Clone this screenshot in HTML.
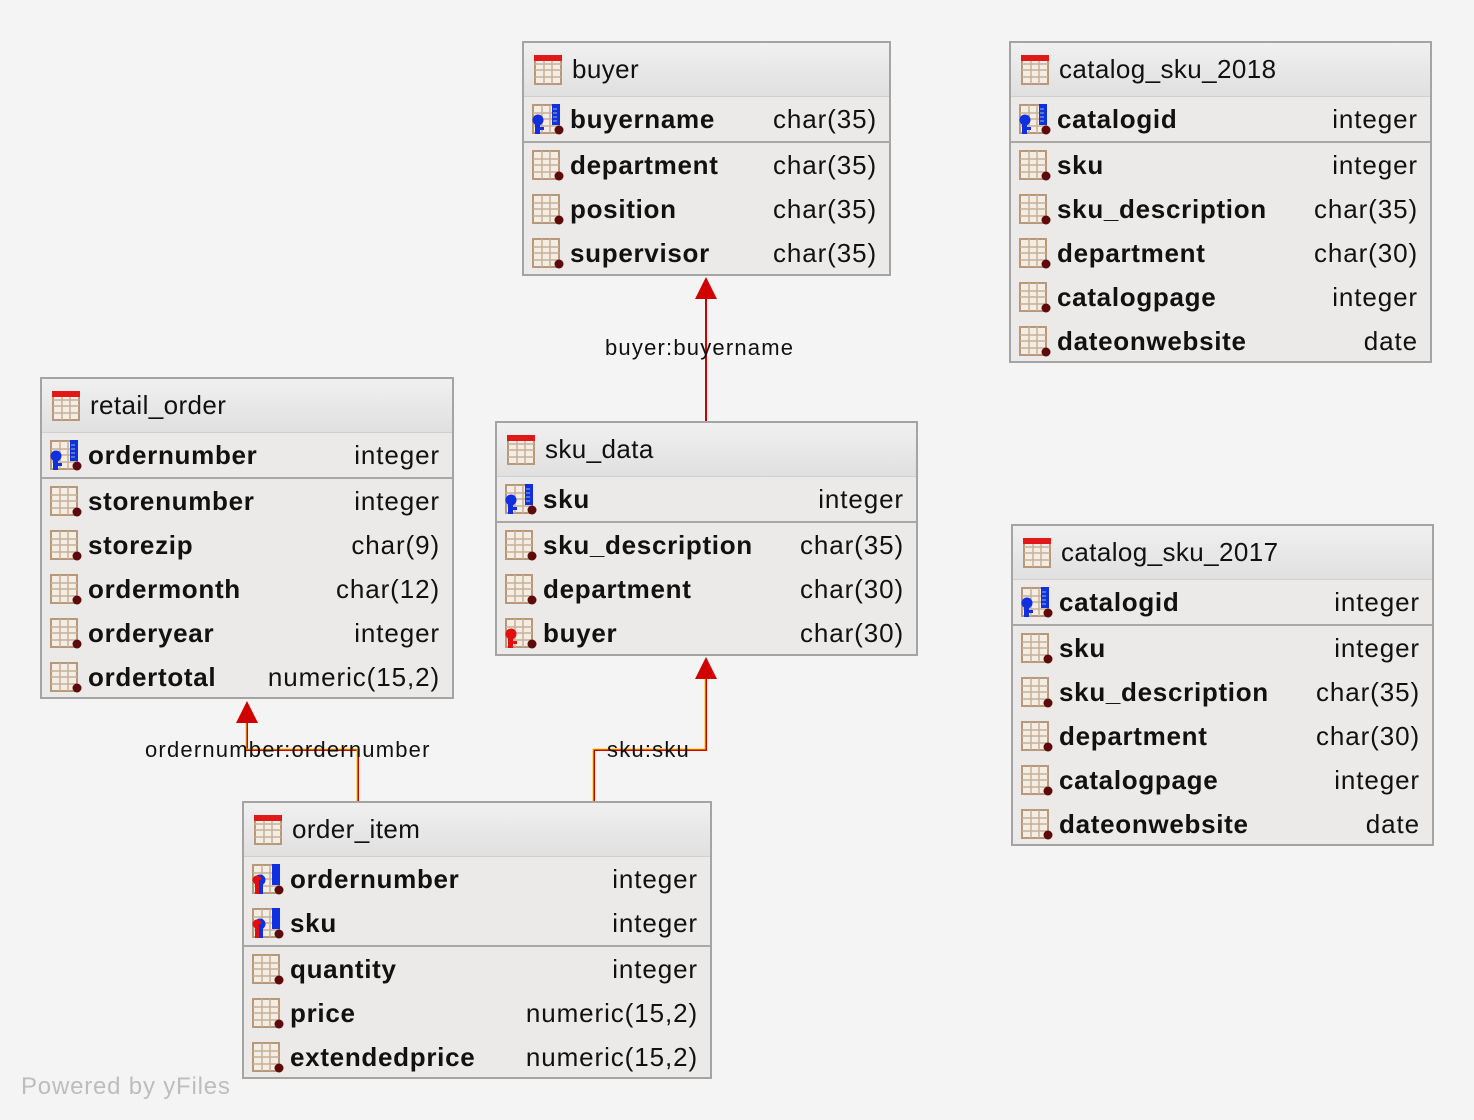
<!DOCTYPE html>
<html><head><meta charset="utf-8"><style>
body{margin:0;width:1474px;height:1120px;background:#f4f4f4;position:relative;overflow:hidden;font-family:"Liberation Sans",sans-serif;}
.t{position:absolute;border:2px solid #a4a4a4;background:#ebeae9;box-sizing:border-box;}
.h{height:54px;background:linear-gradient(#f0f0f0,#e0e0e0);border-bottom:1px solid #cfcfcf;display:flex;align-items:center;font-size:26px;color:#111;box-sizing:border-box;letter-spacing:0.4px;}
.r{height:44px;display:flex;align-items:center;font-size:26px;color:#111;}
.sep{border-top:2px solid #a8a8a8;}
.n{font-weight:bold;flex:1;letter-spacing:0.7px;}
.ty{padding-right:12px;letter-spacing:0.9px;}
svg.i{width:32px;height:32px;margin:0 6px 0 8px;flex:none;}
.h svg.i{margin-left:10px;}
.lbl{position:absolute;font-size:22px;color:#111;letter-spacing:1.2px;}
</style></head><body>
<svg width="0" height="0" style="position:absolute">
<defs>
<symbol id="grid" viewBox="0 0 32 32"><rect x="1" y="2" width="26" height="28" fill="#f3ede4" stroke="#b8987a" stroke-width="2"/><path d="M10 2V30M18 2V30M1 10H27M1 16H27M1 23H27" stroke="#c8b098" stroke-width="1.5"/></symbol>
<symbol id="tbl" viewBox="0 0 32 32"><use href="#grid"/><rect x="0" y="1" width="28" height="6" fill="#e01818"/></symbol>
<symbol id="col" viewBox="0 0 32 32"><use href="#grid"/><circle cx="27" cy="27" r="4.5" fill="#5c0a0a"/></symbol>
<symbol id="pk" viewBox="0 0 32 32"><use href="#col"/><rect x="20" y="1" width="8" height="21" fill="#1030e0"/><path d="M21 6h4M21 10h4M21 14h4M21 18h4" stroke="#9bb" stroke-width="1"/><circle cx="6" cy="17" r="5.5" fill="#1030e0"/><rect x="3" y="17" width="5" height="14" fill="#1030e0"/><rect x="8" y="24" width="4" height="3" fill="#1030e0"/></symbol>
<symbol id="fk" viewBox="0 0 32 32"><use href="#col"/><circle cx="6" cy="17" r="5.5" fill="#e01010"/><rect x="3" y="17" width="5" height="14" fill="#e01010"/><rect x="8" y="24" width="4" height="3" fill="#e01010"/></symbol>
<symbol id="pf" viewBox="0 0 32 32"><use href="#col"/><rect x="20" y="1" width="8" height="21" fill="#1030e0"/><circle cx="8" cy="17" r="5.5" fill="#1030e0"/><circle cx="5" cy="17" r="4.5" fill="#e01010"/><rect x="3" y="17" width="4" height="14" fill="#e01010"/><rect x="7" y="17" width="4" height="14" fill="#1030e0"/></symbol>
</defs></svg>

<svg style="position:absolute;left:0;top:0" width="1474" height="1120">
<path d="M706 421V296" stroke="#d00000" stroke-width="2" fill="none"/>
<polygon points="706,277 695,299 717,299" fill="#d00000"/>
<path d="M358 801V750H247V720" stroke="#d00000" stroke-width="2" fill="none"/>
<path d="M357 801V749H246V720" stroke="#f0d000" stroke-width="1" fill="none"/>
<polygon points="247,701 236,723 258,723" fill="#d00000"/>
<path d="M594 801V750H706V678" stroke="#d00000" stroke-width="2" fill="none"/>
<path d="M593 801V749H705V678" stroke="#f0d000" stroke-width="1" fill="none"/>
<polygon points="706,657 695,679 717,679" fill="#d00000"/>
</svg>
<div class="lbl" style="left:605px;top:335px">buyer:buyername</div>
<div class="lbl" style="left:145px;top:737px">ordernumber:ordernumber</div>
<div class="lbl" style="left:607px;top:737px">sku:sku</div>

<div class="t" style="left:522px;top:41px;width:369px;height:235px">
<div class="h"><svg class="i"><use href="#tbl"/></svg>buyer</div>
<div class="r"><svg class="i"><use href="#pk"/></svg><span class="n">buyername</span><span class="ty">char(35)</span></div>
<div class="sep"></div>
<div class="r"><svg class="i"><use href="#col"/></svg><span class="n">department</span><span class="ty">char(35)</span></div>
<div class="r"><svg class="i"><use href="#col"/></svg><span class="n">position</span><span class="ty">char(35)</span></div>
<div class="r"><svg class="i"><use href="#col"/></svg><span class="n">supervisor</span><span class="ty">char(35)</span></div>
</div>

<div class="t" style="left:1009px;top:41px;width:423px;height:322px">
<div class="h"><svg class="i"><use href="#tbl"/></svg>catalog_sku_2018</div>
<div class="r"><svg class="i"><use href="#pk"/></svg><span class="n">catalogid</span><span class="ty">integer</span></div>
<div class="sep"></div>
<div class="r"><svg class="i"><use href="#col"/></svg><span class="n">sku</span><span class="ty">integer</span></div>
<div class="r"><svg class="i"><use href="#col"/></svg><span class="n">sku_description</span><span class="ty">char(35)</span></div>
<div class="r"><svg class="i"><use href="#col"/></svg><span class="n">department</span><span class="ty">char(30)</span></div>
<div class="r"><svg class="i"><use href="#col"/></svg><span class="n">catalogpage</span><span class="ty">integer</span></div>
<div class="r"><svg class="i"><use href="#col"/></svg><span class="n">dateonwebsite</span><span class="ty">date</span></div>
</div>

<div class="t" style="left:40px;top:377px;width:414px;height:322px">
<div class="h"><svg class="i"><use href="#tbl"/></svg>retail_order</div>
<div class="r"><svg class="i"><use href="#pk"/></svg><span class="n">ordernumber</span><span class="ty">integer</span></div>
<div class="sep"></div>
<div class="r"><svg class="i"><use href="#col"/></svg><span class="n">storenumber</span><span class="ty">integer</span></div>
<div class="r"><svg class="i"><use href="#col"/></svg><span class="n">storezip</span><span class="ty">char(9)</span></div>
<div class="r"><svg class="i"><use href="#col"/></svg><span class="n">ordermonth</span><span class="ty">char(12)</span></div>
<div class="r"><svg class="i"><use href="#col"/></svg><span class="n">orderyear</span><span class="ty">integer</span></div>
<div class="r"><svg class="i"><use href="#col"/></svg><span class="n">ordertotal</span><span class="ty">numeric(15,2)</span></div>
</div>

<div class="t" style="left:495px;top:421px;width:423px;height:235px">
<div class="h"><svg class="i"><use href="#tbl"/></svg>sku_data</div>
<div class="r"><svg class="i"><use href="#pk"/></svg><span class="n">sku</span><span class="ty">integer</span></div>
<div class="sep"></div>
<div class="r"><svg class="i"><use href="#col"/></svg><span class="n">sku_description</span><span class="ty">char(35)</span></div>
<div class="r"><svg class="i"><use href="#col"/></svg><span class="n">department</span><span class="ty">char(30)</span></div>
<div class="r"><svg class="i"><use href="#fk"/></svg><span class="n">buyer</span><span class="ty">char(30)</span></div>
</div>

<div class="t" style="left:1011px;top:524px;width:423px;height:322px">
<div class="h"><svg class="i"><use href="#tbl"/></svg>catalog_sku_2017</div>
<div class="r"><svg class="i"><use href="#pk"/></svg><span class="n">catalogid</span><span class="ty">integer</span></div>
<div class="sep"></div>
<div class="r"><svg class="i"><use href="#col"/></svg><span class="n">sku</span><span class="ty">integer</span></div>
<div class="r"><svg class="i"><use href="#col"/></svg><span class="n">sku_description</span><span class="ty">char(35)</span></div>
<div class="r"><svg class="i"><use href="#col"/></svg><span class="n">department</span><span class="ty">char(30)</span></div>
<div class="r"><svg class="i"><use href="#col"/></svg><span class="n">catalogpage</span><span class="ty">integer</span></div>
<div class="r"><svg class="i"><use href="#col"/></svg><span class="n">dateonwebsite</span><span class="ty">date</span></div>
</div>

<div class="t" style="left:242px;top:801px;width:470px;height:278px">
<div class="h"><svg class="i"><use href="#tbl"/></svg>order_item</div>
<div class="r"><svg class="i"><use href="#pf"/></svg><span class="n">ordernumber</span><span class="ty">integer</span></div>
<div class="r"><svg class="i"><use href="#pf"/></svg><span class="n">sku</span><span class="ty">integer</span></div>
<div class="sep"></div>
<div class="r"><svg class="i"><use href="#col"/></svg><span class="n">quantity</span><span class="ty">integer</span></div>
<div class="r"><svg class="i"><use href="#col"/></svg><span class="n">price</span><span class="ty">numeric(15,2)</span></div>
<div class="r"><svg class="i"><use href="#col"/></svg><span class="n">extendedprice</span><span class="ty">numeric(15,2)</span></div>
</div>

<div style="position:absolute;left:21px;top:1073px;font-size:24px;color:#bdbdbd;letter-spacing:0.8px">Powered by yFiles</div>
</body></html>
